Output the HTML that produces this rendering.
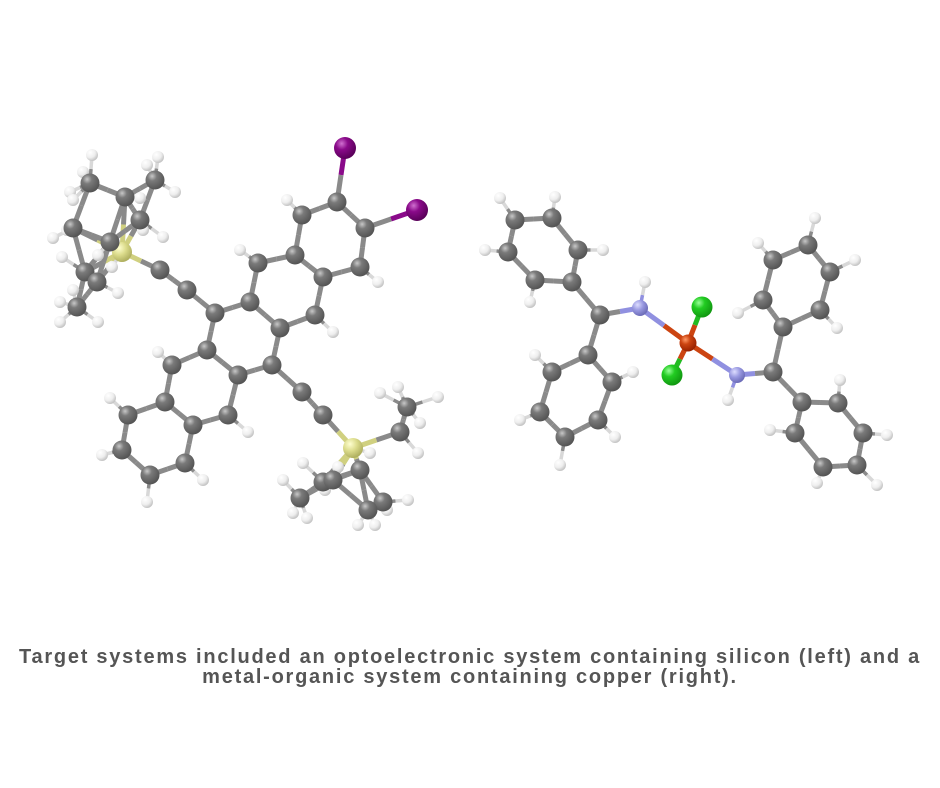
<!DOCTYPE html>
<html><head><meta charset="utf-8"><style>
html,body{margin:0;padding:0;background:#fff;width:940px;height:788px;overflow:hidden}
#cap{position:absolute;left:0;top:647px;width:940px;text-align:center;font-family:"Liberation Sans",sans-serif;font-weight:bold;font-size:20px;letter-spacing:1.75px;line-height:20px;color:#555;white-space:nowrap}
svg{position:absolute;left:0;top:0}
</style></head><body>
<svg id="s" width="940" height="788" xmlns="http://www.w3.org/2000/svg">
<defs>
<radialGradient id="gC" cx="35%" cy="30%" r="70%"><stop offset="0" stop-color="#c8c8c8"/><stop offset="0.35" stop-color="#7a7a7a"/><stop offset="1" stop-color="#555"/></radialGradient>
<radialGradient id="gH" cx="35%" cy="30%" r="70%"><stop offset="0" stop-color="#fff"/><stop offset="0.6" stop-color="#eee"/><stop offset="1" stop-color="#c4c4c4"/></radialGradient>
<radialGradient id="gI" cx="35%" cy="30%" r="70%"><stop offset="0" stop-color="#d070d0"/><stop offset="0.4" stop-color="#8a0a8a"/><stop offset="1" stop-color="#5a005a"/></radialGradient>
<radialGradient id="gSi" cx="35%" cy="30%" r="70%"><stop offset="0" stop-color="#ffffd0"/><stop offset="0.5" stop-color="#dcdc8c"/><stop offset="1" stop-color="#b0b060"/></radialGradient>
<radialGradient id="gCl" cx="35%" cy="30%" r="70%"><stop offset="0" stop-color="#9f9"/><stop offset="0.4" stop-color="#22cc22"/><stop offset="1" stop-color="#119911"/></radialGradient>
<radialGradient id="gCu" cx="35%" cy="30%" r="70%"><stop offset="0" stop-color="#f96"/><stop offset="0.4" stop-color="#cc4411"/><stop offset="1" stop-color="#992200"/></radialGradient>
<radialGradient id="gN" cx="35%" cy="30%" r="70%"><stop offset="0" stop-color="#ddf"/><stop offset="0.5" stop-color="#9898e0"/><stop offset="1" stop-color="#6c6cb8"/></radialGradient>
</defs>
<g id="b"></g><g id="a"></g>
</svg>
<div id="cap">Target systems included an optoelectronic system containing silicon (left) and a<br>metal-organic system containing copper (right).</div>
<script>
var heavy=[
['I',345,148],['I',417,210],
['C',337,202],['C',365,228],['C',360,267],['C',323,277],['C',295,255],['C',302,215],
['C',258,263],['C',250,302],['C',280,328],['C',315,315],
['C',215,313],['C',207,350],['C',238,375],['C',272,365],
['C',172,365],['C',165,402],['C',193,425],['C',228,415],
['C',128,415],['C',122,450],['C',150,475],['C',185,463],
['C',187,290],['C',160,270],['Si',122,252],
['C',302,392],['C',323,415],['Si',353,448],
['C',110,242],['C',125,197],['C',90,183],['C',155,180],['C',73,228],['C',140,220],['C',85,272],['C',97,282],['C',77,307],
['C',407,407],['C',400,432],['C',360,470],['C',323,482],['C',300,498],['C',383,502],['C',368,510],['C',333,480],
['Cu',688,343],['N',640,308],['N',737,375],['Cl',702,307],['Cl',672,375],
['C',600,315],['C',572,282],['C',578,250],['C',552,218],['C',515,220],['C',508,252],['C',535,280],
['C',588,355],['C',612,382],['C',598,420],['C',565,437],['C',540,412],['C',552,372],
['C',773,372],['C',783,327],['C',820,310],['C',830,272],['C',808,245],['C',773,260],['C',763,300],
['C',802,402],['C',838,403],['C',863,433],['C',857,465],['C',823,467],['C',795,433]
];
var H=[[287,200],[240,250],[378,282],[333,332],[158,352],[110,398],[102,455],[147,502],[203,480],[248,432],
[92,155],[83,172],[158,157],[147,165],[175,192],[70,192],[73,200],[140,198],[53,238],[67,230],[163,237],[143,230],[62,257],[98,255],[112,267],[118,293],[60,302],[60,322],[98,322],[73,290],
[380,393],[398,387],[438,397],[420,423],[418,453],[370,453],[303,463],[283,480],[325,490],[293,513],[307,518],[358,525],[375,525],[387,510],[408,500],[338,467],
[645,282],[728,400],
[500,198],[555,197],[485,250],[603,250],[530,302],
[535,355],[633,372],[615,437],[560,465],[520,420],
[815,218],[855,260],[758,243],[738,313],[837,328],
[840,380],[887,435],[877,485],[817,483],[770,430]];
var col={C:'#8a8a8a',H:'#d8d8d8',I:'#8a0a8a',Si:'#d0d080',Cl:'#22bb22',Cu:'#cc4411',N:'#9090e0'};
var rad={C:9.5,H:6,I:11,Si:10,Cl:10.5,Cu:8.5,N:8};
var NS='http://www.w3.org/2000/svg',bg=document.getElementById('b'),ag=document.getElementById('a');
function line(x1,y1,x2,y2,c,w){var l=document.createElementNS(NS,'line');l.setAttribute('x1',x1);l.setAttribute('y1',y1);l.setAttribute('x2',x2);l.setAttribute('y2',y2);l.setAttribute('stroke',c);l.setAttribute('stroke-width',w);bg.appendChild(l);}
function bond(a,b,w){var mx=(a[1]+b[1])/2,my=(a[2]+b[2])/2;line(a[1],a[2],mx,my,col[a[0]],w);line(mx,my,b[1],b[2],col[b[0]],w);}
var sp={Cu:1,N:1,I:1,Si:1};
for(var i=0;i<heavy.length;i++)for(var j=i+1;j<heavy.length;j++){var a=heavy[i],b=heavy[j];if(a[0]=='Cl'&&b[0]!='Cu'||b[0]=='Cl'&&a[0]!='Cu')continue;if(a[0]=='I'&&b[0]=='I')continue;var d=Math.hypot(a[1]-b[1],a[2]-b[2]);var lim=(sp[a[0]]||sp[b[0]])?60:50;if(d<lim)bond(a,b,5);}
var atoms=[];
H.forEach(function(h){var best=null,bd=1e9;heavy.forEach(function(a){var d=Math.hypot(a[1]-h[0],a[2]-h[1]);if(d<bd){bd=d;best=a;}});var ha=['H',h[0],h[1]];if(bd<40)bond(best,ha,3.5);atoms.push(ha);});
atoms=atoms.concat(heavy);
atoms.forEach(function(a){var c=document.createElementNS(NS,'circle');c.setAttribute('cx',a[1]);c.setAttribute('cy',a[2]);c.setAttribute('r',rad[a[0]]);c.setAttribute('fill','url(#g'+a[0]+')');ag.appendChild(c);});
</script>
</body></html>
